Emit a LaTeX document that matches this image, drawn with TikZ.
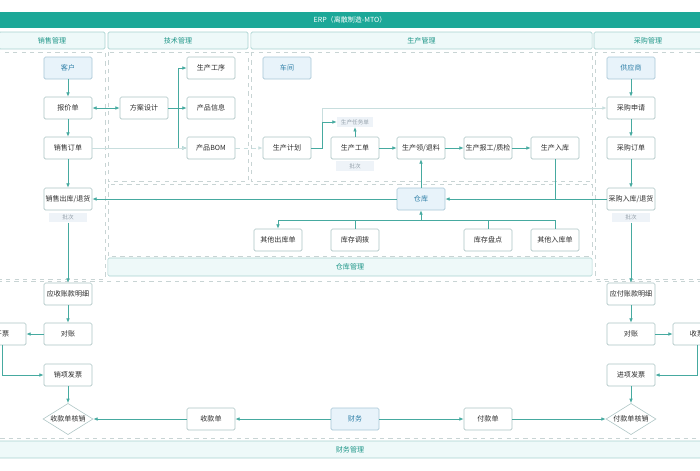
\documentclass[tikz,border=0pt]{standalone}
\usepackage{fontspec}
\setmainfont{Noto Sans CJK SC}
\usetikzlibrary{arrows.meta,shapes.geometric,positioning}
\definecolor{erpteal}{RGB}{28,168,152}
\definecolor{flowline}{RGB}{70,170,160}
\definecolor{faintline}{RGB}{200,222,222}
\definecolor{boxline}{RGB}{172,196,196}
\definecolor{boxtext}{RGB}{45,45,45}
\definecolor{lightfill}{RGB}{232,243,250}
\definecolor{lightline}{RGB}{168,198,214}
\definecolor{lighttext}{RGB}{48,128,168}
\definecolor{barfill}{RGB}{238,249,249}
\definecolor{barline}{RGB}{168,210,208}
\definecolor{bartext}{RGB}{30,150,136}
\definecolor{zoneline}{RGB}{200,212,212}
\definecolor{tagfill}{RGB}{238,243,248}
\definecolor{tagtext}{RGB}{150,162,172}

\begin{document}
\begin{tikzpicture}[
x=0.025cm, y=-0.025cm,
every node/.style={font=\fontsize{5}{6}\selectfont, inner sep=0pt},
Card/.style={draw=boxline, fill=white, rounded corners=1pt, text=boxtext, minimum width=1.2cm, minimum height=0.55cm},
SoftCard/.style={Card, draw=lightline, fill=lightfill, text=lighttext},
Tag/.style={fill=tagfill, text=tagtext, minimum width=0.95cm, minimum height=0.24cm, font=\fontsize{4}{5}\selectfont},
Gate/.style={diamond, draw=boxline, fill=white, text=boxtext, aspect=1.6, minimum width=1.25cm, minimum height=0.78cm},
Flow/.style={draw=flowline, line width=0.5pt, -{Latex[length=1.1mm, width=0.9mm]}},
Line/.style={draw=flowline, line width=0.5pt},
FaintFlow/.style={draw=faintline, line width=0.5pt, -{Latex[length=1.1mm, width=0.9mm]}},
Zone/.style={draw=zoneline, dashed, line width=0.6pt},
Bar/.style={draw=barline, fill=barfill, rounded corners=1pt, text=bartext}
]
\useasboundingbox (0,0) rectangle (700,470);
\clip (0,0) rectangle (700,470);

% zones
\draw[Zone] (-3,52) rectangle (105,279);
\draw[Zone] (108,52) rectangle (248,181);
\draw[Zone] (251,52) rectangle (592,181);
\draw[Zone] (108,184) rectangle (592,256);
\draw[Zone] (595,52) rectangle (703,279);
\draw[Zone] (-3,281) rectangle (703,438);

% title and section bars
\node[fill=erpteal, text=white, minimum width=17.6cm, minimum height=0.4cm] (erp) at (350,20) {ERP（离散制造-MTO）};
\node[Bar, minimum width=2.65cm, minimum height=0.425cm] (hdSales) at (52,40.5) {销售管理};
\node[Bar, minimum width=3.5cm, minimum height=0.425cm] (hdTech) at (178,40.5) {技术管理};
\node[Bar, minimum width=8.525cm, minimum height=0.425cm] (hdProd) at (421.5,40.5) {生产管理};
\node[Bar, minimum width=2.7cm, minimum height=0.425cm] (hdPurch) at (648,40.5) {采购管理};
\node[Bar, minimum width=12.1cm, minimum height=0.45cm] (hdStock) at (350,267) {仓库管理};
\node[Bar, minimum width=17.6cm, minimum height=0.425cm] (hdFin) at (350,449.5) {财务管理};

% sales
\node[SoftCard] (kehu) at (68,68) {客户};
\node[Card] (baojia) at (68,108) {报价单};
\node[Card] (xsdd) at (68,148) {销售订单};
\node[Card] (xsck) at (68,199) {销售出库/退货};
\node[Tag] (pcS) at (68,217.5) {批次};

% technology
\node[Card] (fasj) at (144,108) {方案设计};
\node[Card] (scgx) at (211,68) {生产工序};
\node[Card] (cpxx) at (211,108) {产品信息};
\node[Card] (cpbom) at (211,148) {产品BOM};

% production
\node[SoftCard] (chejian) at (287,68) {车间};
\node[Card] (scjh) at (287,148) {生产计划};
\node[Tag, minimum width=0.9cm] (scrw) at (355,122) {生产任务单};
\node[Card] (scgd) at (355,148) {生产工单};
\node[Tag] (pcG) at (355,166) {批次};
\node[Card] (scll) at (421,148) {生产领/退料};
\node[Card] (scbg) at (488,148) {生产报工/质检};
\node[Card] (scrk) at (555,148) {生产入库};

% warehouse
\node[SoftCard] (cangku) at (421,199) {仓库};
\node[Card] (qtck) at (278,240) {其他出库单};
\node[Card] (kcdb) at (355,240) {库存调拨};
\node[Card] (kcpd) at (488,240) {库存盘点};
\node[Card] (qtrk) at (555,240) {其他入库单};

% purchasing
\node[SoftCard] (gys) at (631,68) {供应商};
\node[Card] (cgsq) at (631,108) {采购申请};
\node[Card] (cgdd) at (631,148) {采购订单};
\node[Card] (cgrk) at (631,199) {采购入库/退货};
\node[Tag] (pcP) at (631,217.5) {批次};

% finance
\node[Card] (yszk) at (68,294) {应收账款明细};
\node[Card] (dzS) at (68,334) {对账};
\node[Card] (kaipiao) at (2,334) {开票};
\node[Card] (xxfp) at (68,375) {销项发票};
\node[Gate] (skhx) at (68,419) {收款单核销};
\node[Card] (skd) at (211,419) {收款单};
\node[SoftCard] (caiwu) at (355,419) {财务};
\node[Card] (fkd) at (488,419) {付款单};
\node[Gate] (fkhx) at (631,419) {付款单核销};
\node[Card] (yfzk) at (631,294) {应付账款明细};
\node[Card] (dzP) at (631,334) {对账};
\node[Card] (shoupiao) at (697,334) {收票};
\node[Card] (jxfp) at (631,375) {进项发票};

\coordinate (fork) at (178,108);
\coordinate (jhturn) at (322,122);
\coordinate (poturn) at (322,108);
\coordinate (bus) at (421,220);

% sales flow
\draw[Flow] (kehu) -- (baojia);
\draw[Flow] (baojia) -- (xsdd);
\draw[Flow] (xsdd) -- (xsck);
\draw[Flow] (pcS) -- (yszk);
\draw[Flow] (yszk) -- (dzS);
\draw[Flow] (dzS) -- (kaipiao);
\draw[Flow] (kaipiao.south) |- (xxfp.west);
\draw[Flow] (xxfp) -- (skhx);
\draw[Flow] (skd) -- (skhx);
\draw[Flow] (caiwu) -- (skd);

% technology flow
\draw[Flow, {Latex[length=1.1mm, width=0.9mm]}-{Latex[length=1.1mm, width=0.9mm]}] (baojia) -- (fasj);
\draw[Line] (fasj) -- (fork);
\draw[Flow] (fork) |- (scgx);
\draw[Flow] (fork) -- (cpxx);
\draw[Flow] (fork) |- (cpbom);
\draw[FaintFlow] (xsdd) -- (cpbom);
\draw[FaintFlow, dashed] (cpbom) -- (scjh);

% production flow
\draw[Flow] (scjh.east) -| (jhturn) -- (scrw.west);
\draw[FaintFlow] (jhturn) -- (poturn) -- (cgsq.west);
\draw[Flow] (scgd) -- (scrw);
\draw[Flow] (scgd) -- (scll);
\draw[Flow] (scll) -- (scbg);
\draw[Flow] (scbg) -- (scrk);
\draw[Line] (scrk) -- (scrk |- cangku);

% warehouse flow
\draw[Flow] (cgrk) -- (cangku);
\draw[Flow] (cangku) -- (xsck);
\draw[Flow] (cangku) -- (scll);
\draw[Flow] (qtrk.north) -- (qtrk.north |- bus) -- (qtck.north |- bus) -- (qtck.north);
\draw[Line] (kcdb.north) -- (kcdb.north |- bus);
\draw[Line] (kcpd.north) -- (kcpd.north |- bus);
\draw[Flow] (bus) -- (cangku);

% purchasing flow
\draw[Flow] (gys) -- (cgsq);
\draw[Flow] (cgsq) -- (cgdd);
\draw[Flow] (cgdd) -- (cgrk);
\draw[Flow] (pcP) -- (yfzk);
\draw[Flow] (yfzk) -- (dzP);
\draw[Flow] (dzP) -- (shoupiao);
\draw[Flow] (shoupiao.south) |- (jxfp.east);
\draw[Flow] (jxfp) -- (fkhx);
\draw[Flow] (caiwu) -- (fkd);
\draw[Flow] (fkd) -- (fkhx);

\end{tikzpicture}
\end{document}
